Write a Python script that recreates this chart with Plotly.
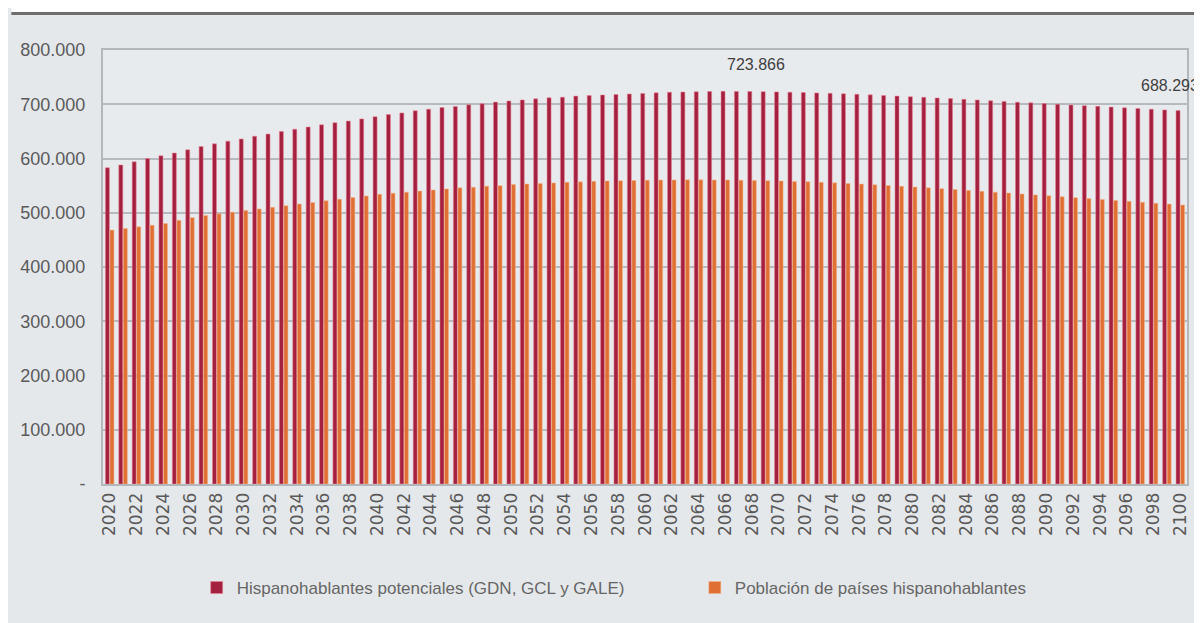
import plotly.graph_objects as go

years = list(range(2020, 2101))

# Hispanohablantes potenciales (GDN, GCL y GALE), miles
potenciales = [
    583, 588, 594, 600, 605, 610, 616, 622, 627, 632,
    636, 641, 645, 650, 654, 658, 662, 666, 669, 673,
    677, 681, 684, 688, 691, 694, 696, 699, 701, 704,
    706, 708, 710, 712, 713, 715, 716, 717, 718, 719,
    720, 721, 722, 722.5, 723, 723.5, 723.866, 723.7, 723.5, 723.2,
    722.8, 722.2, 721.6, 720.9, 720.1, 719.2, 718.3, 717.3, 716.2, 715.1,
    714.0, 712.8, 711.6, 710.4, 709.1, 707.8, 706.5, 705.2, 703.9, 702.6,
    701.3, 700.0, 698.7, 697.4, 696.1, 694.8, 693.5, 692.2, 690.9, 689.6,
    688.293,
]

# Población de países hispanohablantes, miles
poblacion = [
    468, 471, 474, 477, 480, 486, 491, 495, 498, 501,
    504, 507, 510, 513, 516, 519, 522, 525, 528, 531,
    534, 536, 538, 540, 542, 544, 546, 547, 549, 550,
    552, 553, 554, 555, 556, 557, 558, 558.5, 559, 559.5,
    560, 560.3, 560.5, 560.6, 560.6, 560.5, 560.3, 560, 559.6, 559.1,
    558.5, 557.8, 557, 556.1, 555.1, 554, 552.8, 551.5, 550.2, 548.8,
    547.4, 545.9, 544.4, 542.8, 541.2, 539.6, 538, 536.3, 534.6, 532.9,
    531.2, 529.5, 527.8, 526.1, 524.4, 522.7, 521, 519.3, 517.6, 515.9,
    514.2,
]

y_tickvals = [0, 100, 200, 300, 400, 500, 600, 700, 800]
y_ticktext = ["-", "100.000", "200.000", "300.000", "400.000",
              "500.000", "600.000", "700.000", "800.000"]
x_tickvals = years[::2]
x_ticktext = [str(y) for y in x_tickvals]

name_a = "Hispanohablantes potenciales (GDN, GCL y GALE)"
name_b = "Población de países hispanohablantes"
label_peak = "723.866"
label_last = "688.293"

# page is offset by the 8px body margin
OFF = 8
W, H = 1202 - OFF, 623 - OFF
L, R, T, B = 100 - OFF, 1202 - 1188, 50 - OFF, 623 - 484
pw, ph = W - L - R, H - T - B


def px_x(p):
    return (p - OFF - L) / pw


def px_y(p):
    return (H - B - (p - OFF)) / ph


fig = go.Figure()
fig.add_trace(go.Bar(
    x=years, y=potenciales, name=name_a, legend="legend",
    marker=dict(color="#a3213f", line=dict(color="rgba(235,130,150,0.55)", width=1)),
))
fig.add_trace(go.Bar(
    x=years, y=poblacion, name=name_b, legend="legend2",
    marker=dict(color="#df6f33", line=dict(color="rgba(245,180,140,0.55)", width=1)),
))

legend_common = dict(
    orientation="h",
    yanchor="middle",
    font=dict(size=17, color="#666666"),
    bgcolor="rgba(0,0,0,0)",
    itemwidth=30,
)

fig.update_layout(
    width=W, height=H,
    margin=dict(l=L, r=R, t=T, b=B),
    paper_bgcolor="#e5e8eb",
    plot_bgcolor="#e8ebee",
    barmode="group",
    bargap=0.32,
    bargroupgap=0.12,
    font=dict(family="Liberation Sans, Arial, sans-serif", color="#5a5a5a"),
    showlegend=True,
    legend=dict(x=px_x(194), xanchor="left", y=px_y(588), **legend_common),
    legend2=dict(x=px_x(694), xanchor="left", y=px_y(588), **legend_common),
    xaxis=dict(
        range=[2019.5, 2100.5],
        tickmode="array", tickvals=x_tickvals, ticktext=x_ticktext,
        tickangle=-90,
        tickfont=dict(size=17, color="#5a5a5a", family="DejaVu Sans, sans-serif"),
        showgrid=False,
        showline=True, linecolor="#b3b7bb", linewidth=2, mirror=True,
        ticks="",
    ),
    yaxis=dict(
        range=[0, 800],
        tickmode="array", tickvals=y_tickvals, ticktext=y_ticktext,
        tickfont=dict(size=18, color="#5a5a5a"),
        showgrid=True, gridcolor="#b6babe", gridwidth=1.5,
        zeroline=False,
        showline=True, linecolor="#b3b7bb", linewidth=2, mirror=True,
        ticks="outside", ticklen=12, tickcolor="rgba(0,0,0,0)",
    ),
    shapes=[
        # white strip at top
        dict(type="rect", xref="paper", yref="paper",
             x0=px_x(OFF), x1=px_x(1202), y0=px_y(12), y1=px_y(OFF),
             fillcolor="white", line=dict(width=0), layer="below"),
        # dark rule at top
        dict(type="rect", xref="paper", yref="paper",
             x0=px_x(OFF), x1=px_x(1202), y0=px_y(15), y1=px_y(12),
             fillcolor="#6e6e6e", line=dict(width=0), layer="below"),
    ],
    annotations=[
        dict(x=2066, y=723.866, xref="x", yref="y", text=label_peak,
             showarrow=False, xshift=31, yshift=27,
             font=dict(size=16, color="#404040")),
        dict(x=2100, y=688.293, xref="x", yref="y", text=label_last,
             showarrow=False, xshift=-10, yshift=25,
             font=dict(size=16, color="#404040")),
    ],
)

fig.write_html("out.html")
